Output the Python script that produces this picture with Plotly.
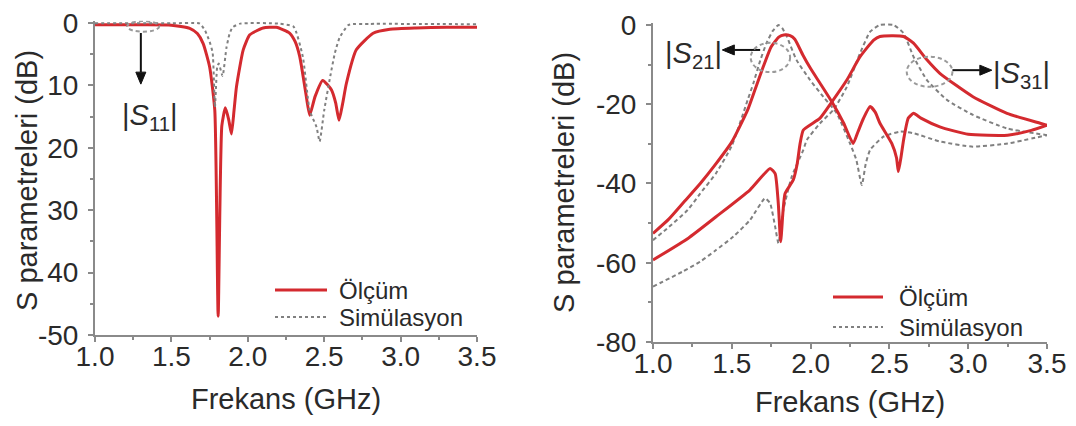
import plotly.graph_objects as go

# ---------------- data: left panel |S11| ----------------
s11_meas_f = [1.0, 1.3, 1.5, 1.62, 1.67, 1.708, 1.75, 1.784, 1.806, 1.83, 1.853, 1.875, 1.893, 1.91, 1.926,
              1.97, 2.013, 2.1, 2.187, 2.275, 2.31, 2.34, 2.38, 2.405, 2.44, 2.49, 2.547, 2.575, 2.597,
              2.62, 2.645, 2.71, 2.82, 2.93, 3.1, 3.3, 3.5]
s11_meas_db = [-0.3, -0.3, -0.35, -0.85, -1.7, -3.3, -7.0, -14.0, -47.0, -16.5, -13.6, -15.5, -17.8, -14.0, -10.2,
               -4.3, -1.9, -0.8, -0.7, -1.65, -3.0, -5.4, -11.3, -14.8, -11.8, -9.2, -10.7, -12.8, -15.6,
               -13.0, -9.7, -4.3, -1.65, -1.0, -0.8, -0.7, -0.7]

s11_sim_f = [1.0, 1.5, 1.686, 1.72, 1.75, 1.77, 1.785, 1.80, 1.81, 1.835, 1.86, 1.88, 1.9, 1.95,
             2.2, 2.3, 2.36, 2.405, 2.45, 2.47, 2.50, 2.54, 2.57, 2.60, 2.66, 2.8, 3.5]
s11_sim_db = [-0.05, -0.05, -0.1, -1.2, -3.0, -4.8, -13.5, -7.0, -6.5, -8.5, -4.0, -1.8, -0.7, -0.1,
              -0.1, -0.6, -5.4, -14.0, -16.7, -19.0, -14.0, -8.5, -4.8, -2.4, -0.3, -0.15, -0.2]

# ---------------- data: right panel |S21|, |S31| ----------------
s21_meas_f = [1.0, 1.1, 1.2, 1.3, 1.4, 1.5, 1.6, 1.65, 1.7, 1.75, 1.8, 1.83, 1.87, 1.9, 1.95, 2.0, 2.06,
              2.135, 2.21, 2.27, 2.3, 2.335, 2.378, 2.41, 2.44, 2.515, 2.545, 2.557, 2.575, 2.59, 2.62,
              2.653, 2.7, 2.82, 3.0, 3.25, 3.4, 3.5]
s21_meas_db = [-52.6, -49.0, -44.5, -40.0, -35.0, -29.5, -21.5, -16.0, -10.5, -5.5, -3.0, -2.5, -2.7, -3.6, -7.5,
               -11.0, -14.7, -19.4, -24.8, -29.9, -27.0, -23.6, -20.6, -22.0, -24.8, -29.9, -33.5, -37.0, -33.0,
               -29.0, -23.5, -22.3, -23.5, -25.7, -27.6, -27.8, -26.6, -25.3]

s21_sim_f = [1.0, 1.1, 1.22, 1.3, 1.4, 1.5, 1.6, 1.637, 1.68, 1.72, 1.76, 1.796, 1.82, 1.849, 1.91, 1.997,
             2.08, 2.166, 2.25, 2.29, 2.325, 2.35, 2.378, 2.462, 2.568, 2.653, 2.82, 3.03, 3.25, 3.5]
s21_sim_db = [-54.3, -51.0, -46.7, -42.5, -37.4, -30.5, -19.0, -14.7, -9.0, -4.6, -1.5, 0.0, -0.8, -2.9, -8.8,
              -13.9, -18.1, -22.3, -29.9, -34.0, -40.4, -35.0, -31.5, -28.2, -26.9, -27.3, -29.4, -30.7,
              -29.9, -27.8]

s31_meas_f = [1.0, 1.224, 1.4, 1.616, 1.743, 1.775, 1.795, 1.81, 1.825, 1.838, 1.89, 1.915, 1.933, 1.954,
              2.06, 2.135, 2.23, 2.314, 2.4, 2.44, 2.59, 2.653, 2.738, 2.82, 3.03, 3.246, 3.457, 3.5]
s31_meas_db = [-59.3, -53.8, -48.4, -41.6, -36.2, -37.5, -45.0, -54.7, -47.0, -42.5, -39.1, -35.0, -30.0, -26.5,
               -23.5, -19.4, -13.9, -8.0, -3.8, -2.9, -2.9, -4.6, -8.8, -12.2, -18.1, -22.3, -24.8, -25.3]

s31_sim_f = [1.0, 1.19, 1.3, 1.4, 1.51, 1.616, 1.711, 1.743, 1.775, 1.796, 1.827, 1.88, 1.954, 1.976,
             2.06, 2.145, 2.23, 2.314, 2.378, 2.44, 2.526, 2.59, 2.653, 2.738, 2.865, 3.03, 3.246, 3.5]
s31_sim_db = [-66.0, -62.2, -59.7, -56.8, -53.4, -49.2, -43.7, -45.0, -50.9, -55.1, -46.7, -38.3, -31.5, -29.0,
              -24.8, -21.4, -15.6, -7.1, -1.7, 0.0, 0.0, -2.1, -8.0, -13.9, -18.9, -22.7, -26.1, -27.8]

x_ticks = [1.0, 1.5, 2.0, 2.5, 3.0, 3.5]
left_yticks = [0, -10, -20, -30, -40, -50]
left_ytext = ["0", "10", "20", "30", "40", "-50"]
right_yticks = [0, -20, -40, -60, -80]
right_ytext = ["0", "-20", "-40", "-60", "-80"]

legend_names = ["Ölçüm", "Simülasyon"]
x_title = "Frekans (GHz)"
y_title = "S parametreleri (dB)"

# ---------------- style ----------------
FONT = "Liberation Sans, Arial, sans-serif"
RED = "#d42a2f"
GRAY = "#808080"
AX = "#8a8a8a"
TXT = "#2a2a2a"
SM = 0.5

meas_line = dict(color=RED, width=3, shape="spline", smoothing=SM)
sim_line_l = dict(color=GRAY, width=2, dash="3px,3px", shape="spline", smoothing=SM)
sim_line_r = dict(color=GRAY, width=2, dash="4px,3px", shape="spline", smoothing=SM)

fig = go.Figure()
fig.add_trace(go.Scatter(x=s11_meas_f, y=s11_meas_db, mode="lines", name=legend_names[0],
                         line=meas_line, xaxis="x", yaxis="y", showlegend=False))
fig.add_trace(go.Scatter(x=s11_sim_f, y=s11_sim_db, mode="lines", name=legend_names[1],
                         line=sim_line_l, xaxis="x", yaxis="y", showlegend=False))
fig.add_trace(go.Scatter(x=s21_sim_f, y=s21_sim_db, mode="lines", name=legend_names[1] + " S21",
                         line=sim_line_r, xaxis="x2", yaxis="y2", showlegend=False))
fig.add_trace(go.Scatter(x=s31_sim_f, y=s31_sim_db, mode="lines", name=legend_names[1] + " S31",
                         line=sim_line_r, xaxis="x2", yaxis="y2", showlegend=False))
fig.add_trace(go.Scatter(x=s21_meas_f, y=s21_meas_db, mode="lines", name=legend_names[0] + " S21",
                         line=meas_line, xaxis="x2", yaxis="y2", showlegend=False))
fig.add_trace(go.Scatter(x=s31_meas_f, y=s31_meas_db, mode="lines", name=legend_names[0] + " S31",
                         line=meas_line, xaxis="x2", yaxis="y2", showlegend=False))

# the page body has an 8px margin: lay out in window pixels and shift by it
OFF = 8
W, H = 1076 - 2 * OFF, 426 - 2 * OFF
# plot-area boxes in window pixels (left, right, top, bottom)
L_BOX = (95, 477, 20.8, 335)
R_BOX = (653, 1047, 23, 342)
L_YR = [-50, 0.35]
R_YR = [-80, 0.5]


def px_x(p):
    return (p - OFF) / W


def px_y(p):
    return 1 - (p - OFF) / H


xcommon = dict(range=[1.0, 3.5], tickvals=x_ticks, ticktext=[f"{v:.1f}" for v in x_ticks],
               showline=True, linecolor=AX, linewidth=2, ticks="outside", ticklen=5, tickwidth=2,
               tickcolor=AX, showgrid=False, zeroline=False, automargin=False, ticklabelstandoff=-10,
               ticklabeloverflow="allow",
               tickfont=dict(size=28, color=TXT, family=FONT),
               minor=dict(tickmode="linear", tick0=1.0, dtick=0.25, ticks="outside", ticklen=3, tickcolor=AX),
               title=dict(text=x_title, font=dict(size=29, color=TXT, family=FONT), standoff=18))
ycommon = dict(showline=True, linecolor=AX, linewidth=2, ticks="outside", ticklen=5, tickwidth=2,
               tickcolor=AX, showgrid=False, zeroline=False, automargin=False, ticklabelstandoff=4,
               ticklabeloverflow="allow",
               tickfont=dict(size=28, color=TXT, family=FONT))

fig.update_layout(
    width=W, height=H, margin=dict(l=0, r=0, t=0, b=0, autoexpand=False),
    paper_bgcolor="white", plot_bgcolor="white",
    font=dict(family=FONT, color=TXT),
    xaxis=dict(domain=[px_x(L_BOX[0]), px_x(L_BOX[1])], anchor="y", **xcommon),
    yaxis=dict(domain=[px_y(L_BOX[3]), px_y(L_BOX[2])], anchor="x", range=L_YR,
               tickvals=left_yticks, ticktext=left_ytext,
               minor=dict(tickmode="linear", tick0=0, dtick=5, ticks="outside", ticklen=3, tickcolor=AX),
               **ycommon),
    xaxis2=dict(domain=[px_x(R_BOX[0]), px_x(R_BOX[1])], anchor="y2", **xcommon),
    yaxis2=dict(domain=[px_y(R_BOX[3]), px_y(R_BOX[2])], anchor="x2", range=R_YR,
                tickvals=right_yticks, ticktext=right_ytext,
                minor=dict(tickmode="linear", tick0=0, dtick=10, ticks="outside", ticklen=3, tickcolor=AX),
                **ycommon),
)

ann = []
shapes = []
ARROW = "#111111"

# y-axis titles (vertical)
for xc, yc in [(27, 181), (564, 183)]:
    ann.append(dict(x=px_x(xc), y=px_y(yc), xref="paper", yref="paper", text=y_title, textangle=-90,
                    showarrow=False, xanchor="center", yanchor="middle",
                    font=dict(size=29, color=TXT, family=FONT)))


def arrow(xref, yref, box, yr, tail, head, headlen=12, halfw=5):
    """Arrow drawn as shapes: a shaft plus a filled triangular head (sizes in pixels)."""
    sx = (box[1] - box[0]) / 2.5              # px per GHz
    sy = (box[3] - box[2]) / (yr[1] - yr[0])  # px per dB
    (tx, ty), (hx, hy) = tail, head
    dxp, dyp = (hx - tx) * sx, -(hy - ty) * sy
    n = (dxp ** 2 + dyp ** 2) ** 0.5
    ux, uy = dxp / n, dyp / n
    bx, by = -ux * headlen, -uy * headlen
    qx, qy = -uy * halfw, ux * halfw
    c1 = (hx + (bx + qx) / sx, hy - (by + qy) / sy)
    c2 = (hx + (bx - qx) / sx, hy - (by - qy) / sy)
    base = (hx + bx / sx, hy - by / sy)
    shapes.append(dict(type="line", xref=xref, yref=yref, x0=tx, y0=ty, x1=base[0], y1=base[1],
                       line=dict(color=ARROW, width=2)))
    shapes.append(dict(type="path", xref=xref, yref=yref,
                       path=f"M{hx},{hy} L{c1[0]},{c1[1]} L{c2[0]},{c2[1]} Z",
                       fillcolor=ARROW, line=dict(color=ARROW, width=1)))


# port labels
ann.append(dict(x=1.36, y=-15, xref="x", yref="y", text="|<i>S</i><sub>11</sub>|", showarrow=False,
                font=dict(size=29, color=TXT, family=FONT)))
arrow("x", "y", L_BOX, L_YR, (1.3, -1.6), (1.3, -9.8))
ann.append(dict(x=1.26, y=-7.5, xref="x2", yref="y2", text="|<i>S</i><sub>21</sub>|", showarrow=False,
                font=dict(size=29, color=TXT, family=FONT)))
arrow("x2", "y2", R_BOX, R_YR, (1.68, -6.3), (1.44, -6.3))
ann.append(dict(x=3.34, y=-12.5, xref="x2", yref="y2", text="|<i>S</i><sub>31</sub>|", showarrow=False,
                font=dict(size=29, color=TXT, family=FONT)))
arrow("x2", "y2", R_BOX, R_YR, (2.90, -11.4), (3.15, -11.4))

# manual legends
for (x0, x1, xt, ya, yb) in [(275, 327, 337, 290, 317), (833, 883, 897, 297, 327)]:
    shapes.append(dict(type="line", xref="paper", yref="paper", x0=px_x(x0), x1=px_x(x1),
                       y0=px_y(ya), y1=px_y(ya), line=dict(color=RED, width=3)))
    shapes.append(dict(type="line", xref="paper", yref="paper", x0=px_x(x0), x1=px_x(x1),
                       y0=px_y(yb), y1=px_y(yb), line=dict(color=GRAY, width=2, dash="3px,3px")))
    ann.append(dict(x=px_x(xt), y=px_y(ya), xref="paper", yref="paper", text=legend_names[0],
                    showarrow=False, xanchor="left", yanchor="middle", font=dict(size=24, color=TXT, family=FONT)))
    ann.append(dict(x=px_x(xt), y=px_y(yb), xref="paper", yref="paper", text=legend_names[1],
                    showarrow=False, xanchor="left", yanchor="middle", font=dict(size=24, color=TXT, family=FONT)))

# dashed ellipses marking the curves
ell = dict(color="#9a9a9a", width=2, dash="4px,3px")
shapes.append(dict(type="circle", xref="x", yref="y", x0=1.21, x1=1.42, y0=-1.4, y1=0.3, line=ell))
shapes.append(dict(type="circle", xref="x2", yref="y2", x0=1.62, x1=1.87, y0=-11.9, y1=-4.5, line=ell))
shapes.append(dict(type="circle", xref="x2", yref="y2", x0=2.61, x1=2.90, y0=-15.6, y1=-8.0, line=ell))

fig.update_layout(annotations=ann, shapes=shapes)
fig.write_html("out.html")
